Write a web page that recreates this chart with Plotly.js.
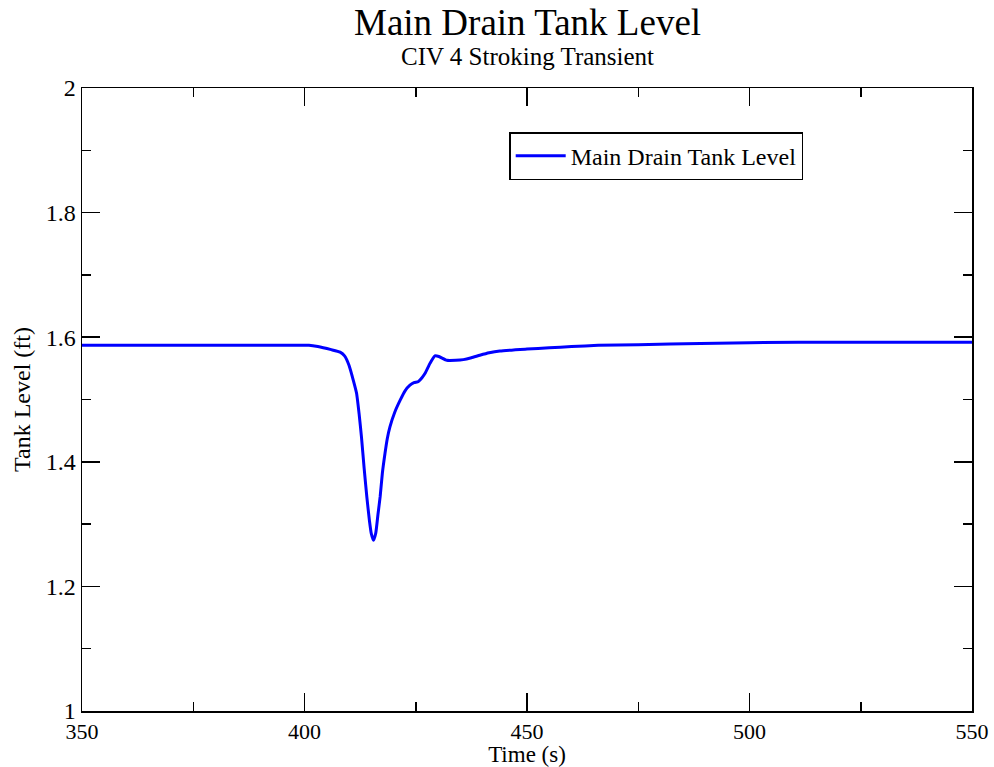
<!DOCTYPE html>
<html>
<head>
<meta charset="utf-8">
<script src="https://cdn.plot.ly/plotly-3.0.1.min.js"></script>
<style>html,body{margin:0;padding:0;background:#fff;}#chart{width:994px;height:767px;}</style>
</head>
<body>
<div id="chart"></div>
<script>
const timeS = [350, 380, 398, 401, 403, 406, 408, 409, 410, 411, 411.7, 412.3, 412.8, 413.4, 414.0, 414.6, 415.0, 415.5, 416.0, 416.5, 417.0, 417.5, 418.1, 418.6, 419.2, 420.3, 421.5, 422.6, 423.7, 424.6, 425.6, 426.4, 427.1, 428.2, 429.3, 430.2, 432.0, 434.0, 435.7, 437.5, 439.4, 441.5, 443.9, 450, 455, 460, 466, 475, 489, 511, 530, 550];
const tankLevel = [1.587, 1.587, 1.587, 1.587, 1.585, 1.580, 1.576, 1.570, 1.555, 1.530, 1.510, 1.475, 1.440, 1.390, 1.344, 1.305, 1.285, 1.274, 1.285, 1.315, 1.344, 1.382, 1.414, 1.437, 1.456, 1.480, 1.499, 1.514, 1.523, 1.527, 1.529, 1.535, 1.542, 1.558, 1.570, 1.569, 1.563, 1.563, 1.564, 1.567, 1.571, 1.575, 1.578, 1.581, 1.583, 1.585, 1.587, 1.588, 1.590, 1.592, 1.592, 1.592];
const seriesName = "Main Drain Tank Level";
const titleText = "Main Drain Tank Level";
const subtitleText = "CIV 4 Stroking Transient";
const xLabel = "Time (s)";
const yLabel = "Tank Level (ft)";

const FONT = "Liberation Serif, Times New Roman, serif";

const trace = {
  x: timeS, y: tankLevel, name: seriesName, type: "scatter", mode: "lines",
  line: {color: "rgb(0,0,255)", width: 3, shape: "spline", smoothing: 0.5},
  showlegend: true
};

const axisCommon = {
  showgrid: false, zeroline: false, showline: true, linecolor: "#000", linewidth: 1.5,
  mirror: "allticks", ticks: "inside", ticklen: 18, tickwidth: 1.5, tickcolor: "#000"
};

const layout = {
  width: 994, height: 767,
  margin: {l: 82, r: 22, t: 88, b: 56},
  paper_bgcolor: "#fff", plot_bgcolor: "#fff",
  font: {family: FONT, color: "#000"},
  xaxis: Object.assign({}, axisCommon, {
    range: [350, 550], dtick: 50, tick0: 350,
    tickfont: {family: FONT, size: 22, color: "#000"},
    minor: {dtick: 25, ticks: "inside", ticklen: 9, tickwidth: 1.5, tickcolor: "#000"},
    title: {text: xLabel, font: {family: FONT, size: 23, color: "#000"}, standoff: 1}
  }),
  yaxis: Object.assign({}, axisCommon, {
    range: [1, 2], dtick: 0.2, tick0: 1,
    tickfont: {family: FONT, size: 24, color: "#000"},
    minor: {dtick: 0.1, ticks: "inside", ticklen: 9, tickwidth: 1.5, tickcolor: "#000"},
    title: {text: yLabel, font: {family: FONT, size: 24, color: "#000"}, standoff: 8}
  }),
  legend: {
    x: 0.48, y: 0.929, xanchor: "left", yanchor: "top",
    bordercolor: "#000", borderwidth: 1.5, bgcolor: "#fff", itemwidth: 50,
    font: {family: FONT, size: 24, color: "#000"}
  },
  annotations: [
    {text: titleText, xref: "paper", yref: "paper", x: 0.5, y: 1.1045, xanchor: "center", yanchor: "middle", showarrow: false, font: {family: FONT, size: 37, color: "#000"}},
    {text: subtitleText, xref: "paper", yref: "paper", x: 0.5, y: 1.0498, xanchor: "center", yanchor: "middle", showarrow: false, font: {family: FONT, size: 25, color: "#000"}}
  ]
};

Plotly.newPlot("chart", [trace], layout, {displayModeBar: false, staticPlot: true});
</script>
</body>
</html>
